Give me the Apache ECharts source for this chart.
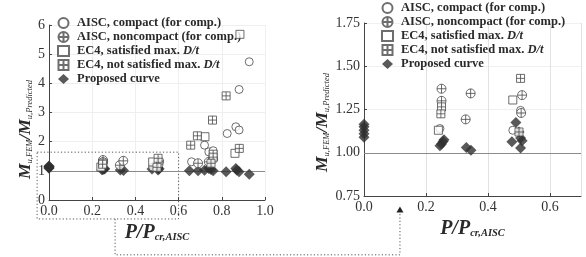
<!DOCTYPE html>
<html><head><meta charset="utf-8">
<script src="https://cdn.jsdelivr.net/npm/echarts@6/dist/echarts.min.js"></script>
<style>html,body{margin:0;padding:0;background:#fff}#c{width:586px;height:257px}</style>
</head><body><div id="c"></div>
<script>
// ---- data: [P/Pcr,AISC , Mu,FEM/Mu,Predicted] ----
const seriesNames = ['AISC, compact (for comp.)','AISC, noncompact (for comp.)','EC4, satisfied max. D/t','EC4, not satisfied max. D/t','Proposed curve'];
const aiscCompact = [[0.245,1.14],[0.48,1.13],[0.505,1.245],[0.66,1.31],[0.72,1.88],[0.74,1.65],[0.76,1.69],[0.825,2.28],[0.865,2.51],[0.88,2.40],[0.88,3.79],[0.927,4.74]];
const aiscNoncompact = [[0.25,1.37],[0.25,1.30],[0.328,1.193],[0.344,1.343],[0.51,1.333],[0.507,1.23],[0.69,1.26],[0.74,1.31],[0.76,1.40]];
const ec4Satisfied = [[0.24,1.13],[0.48,1.305],[0.722,2.17],[0.861,1.60],[0.884,5.68]];
const ec4NotSatisfied = [[0.25,1.265],[0.248,1.225],[0.505,1.43],[0.50,1.12],[0.656,1.88],[0.687,2.20],[0.757,2.74],[0.82,3.57],[0.881,1.77],[0.76,1.57],[0.76,1.47],[0.75,1.26]];
const proposed = [[0,1.09],[0,1.11],[0,1.13],[0,1.15],[0,1.165],[0.245,1.04],[0.25,1.05],[0.255,1.065],[0.258,1.075],[0.33,1.03],[0.345,1.015],[0.477,1.064],[0.49,1.175],[0.50,1.12],[0.505,1.085],[0.51,1.07],[0.505,1.027],[0.65,1.0],[0.69,1.0],[0.72,1.02],[0.74,1.08],[0.75,1.05],[0.76,1.0],[0.82,0.97],[0.865,1.08],[0.87,1.02],[0.88,0.97],[0.927,0.88]];
const leftXTicks = {min:0,max:1,interval:0.2};
const leftYTicks = {min:0,max:6,interval:1};
const rightXTicks = {min:0,max:0.7,interval:0.2};
const rightYTicks = {min:0.75,max:1.75,interval:0.25};
const zoomMaxP = 0.6;   // the right panel magnifies the dotted box (P <= 0.6)
const refLine = 1;

const SERIF = '"Liberation Serif","DejaVu Serif",serif';
const INK = '#2a2a2a';
const circlePlus = 'path://M0,5A5,5 0 1,1 10,5A5,5 0 1,1 0,5Z M5,0L5,10 M0,5L10,5';
const squarePlus = 'path://M0,0L10,0L10,10L0,10Z M5,0L5,10 M0,5L10,5';
const symDefs = [
  {data:aiscCompact, symbol:'circle', size:8},
  {data:aiscNoncompact, symbol:circlePlus, size:9},
  {data:ec4Satisfied, symbol:'rect', size:8},
  {data:ec4NotSatisfied, symbol:squarePlus, size:8},
  {data:proposed, symbol:'diamond', size:11}
];

function mkSeries(gi){
  return symDefs.map((d,i)=>{
    const data = gi===0 ? d.data : d.data.filter(p=>p[0]<=zoomMaxP);
    const s = {
      type:'scatter', name:seriesNames[i], xAxisIndex:gi, yAxisIndex:gi,
      data:data, symbol:d.symbol, symbolSize:d.size, clip:true, silent:true,
      itemStyle: i===4 ? {color:'#303030', borderWidth:0} : {color:'#fff', borderColor:'#4a4a4a', borderWidth:1},
      z: i===4 ? 3 : 4
    };
    if(i===4){
      s.markLine = {silent:true, symbol:'none', label:{show:false},
        lineStyle:{color:'#8a8a8a', type:'solid', width:1}, data:[{yAxis:refLine}], z:1};
    }
    return s;
  });
}

const yName = '{b|M}{s|u,FEM}{b|/M}{s|u,Predicted}';
const xName = '{b|P}{b|/P}{s|cr,AISC}';
const yRich = {b:{fontFamily:SERIF,fontWeight:'bold',fontStyle:'italic',fontSize:17.5,color:INK,verticalAlign:'bottom'},
               s:{fontFamily:SERIF,fontStyle:'italic',fontSize:8.5,color:INK,verticalAlign:'bottom'}};
const xRich = {b:{fontFamily:SERIF,fontWeight:'bold',fontStyle:'italic',fontSize:20,color:INK,verticalAlign:'bottom'},
               s:{fontFamily:SERIF,fontWeight:'bold',fontStyle:'italic',fontSize:10.5,color:INK,verticalAlign:'bottom'}};

function axisCommon(){
  return {
    axisLine:{show:true,onZero:false,lineStyle:{color:'#444',width:1}},
    axisTick:{show:true,inside:true,length:3,lineStyle:{color:'#444'}},
    axisLabel:{fontFamily:SERIF,fontSize:14,color:'#333',margin:4},
    splitLine:{show:true,lineStyle:{color:'#efefef',width:1}}
  };
}

function legendFor(left, top){
  return {
    left:left, top:top, orient:'vertical', itemWidth:11, itemHeight:10, itemGap:0, padding:0,
    data:seriesNames, selectedMode:false,
    textStyle:{fontFamily:SERIF,fontWeight:'bold',fontSize:12.5,lineHeight:14,color:INK,padding:[0,0,0,3],
      rich:{i:{fontFamily:SERIF,fontWeight:'bold',fontStyle:'italic',fontSize:12.5,lineHeight:14,color:INK}}},
    formatter:(n)=>n.replace('D/t','{i|D/t}')
  };
}

const chart = echarts.init(document.getElementById('c'), null, {renderer:'canvas'});
const xa0 = Object.assign(axisCommon(), leftXTicks, {gridIndex:0, type:'value',
  axisLabel:{fontFamily:SERIF,fontSize:14,color:'#333',margin:4,formatter:v=>v.toFixed(1)},
  name:xName, nameLocation:'middle', nameGap:17, nameTextStyle:{rich:xRich}});
const ya0 = Object.assign(axisCommon(), leftYTicks, {gridIndex:0, type:'value',
  name:yName, nameLocation:'middle', nameGap:14, nameTextStyle:{rich:yRich, padding:[0,34,0,0]}});
const xa1 = Object.assign(axisCommon(), rightXTicks, {gridIndex:1, type:'value',
  axisLabel:{fontFamily:SERIF,fontSize:14,color:'#333',margin:4,showMaxLabel:false,formatter:v=>v.toFixed(1)},
  splitLine:{show:true,lineStyle:{color:'#e2e2e2',width:1}},
  name:xName, nameLocation:'middle', nameGap:17, nameTextStyle:{rich:xRich}});
const ya1 = Object.assign(axisCommon(), rightYTicks, {gridIndex:1, type:'value',
  axisLabel:{fontFamily:SERIF,fontSize:14,color:'#333',margin:4,formatter:v=>v.toFixed(2)},
  splitLine:{show:true,lineStyle:{color:'#f0f0f0',width:1}},
  name:yName, nameLocation:'middle', nameGap:31, nameTextStyle:{rich:yRich, padding:[0,26,0,0]}});

chart.setOption({
  animation:false,
  backgroundColor:'#fff',
  grid:[{left:49,top:25,width:216,height:175},{left:364,top:23,width:217,height:173}],
  xAxis:[xa0,xa1], yAxis:[ya0,ya1],
  legend:[legendFor(57,16), legendFor(381,1)],
  series:[...mkSeries(0), ...mkSeries(1)]
});

// dotted zoom annotation, placed through the axes' own scales
const tl = chart.convertToPixel({gridIndex:0},[-0.055,1.64]);
const br = chart.convertToPixel({gridIndex:0},[zoomMaxP,-0.65]);
const c0 = chart.convertToPixel({gridIndex:0},[0.306,-0.65]);
const c1 = chart.convertToPixel({gridIndex:0},[0.306,-1.88]);
const aTip = chart.convertToPixel({gridIndex:1},[0.116,0.69]);
const aBase = chart.convertToPixel({gridIndex:1},[0.116,0.655]);
const dot = {stroke:'#555',lineWidth:1,lineDash:[1.2,2.2],fill:null};
chart.setOption({graphic:[
  {type:'rect',shape:{x:tl[0],y:tl[1],width:br[0]-tl[0],height:br[1]-tl[1]},style:dot,silent:true,z:0},
  {type:'polyline',shape:{points:[[c0[0],c0[1]],[c1[0],c1[1]],[aTip[0],c1[1]],[aTip[0],aBase[1]]]},style:dot,silent:true},
  {type:'polygon',shape:{points:[[aTip[0],aTip[1]],[aTip[0]-3.5,aBase[1]],[aTip[0]+3.5,aBase[1]]]},style:{fill:'#222'},silent:true}
]});
</script></body></html>
